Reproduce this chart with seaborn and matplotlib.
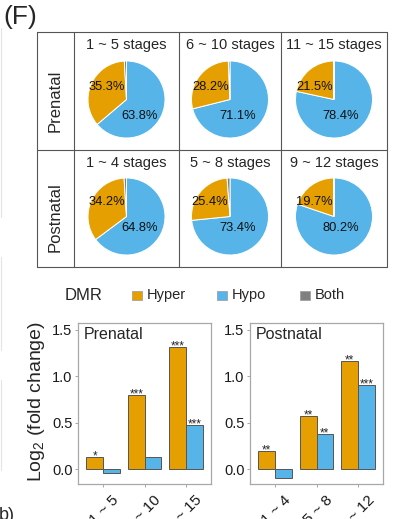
import numpy as np
import pandas as pd
import matplotlib
matplotlib.use("Agg")
import matplotlib.pyplot as plt
import matplotlib.transforms as mtransforms
from matplotlib.patches import Rectangle
import seaborn as sns

# ---------------- data ----------------
periods = ["Prenatal", "Postnatal"]
pie_titles = [["1 ~ 5 stages", "6 ~ 10 stages", "11 ~ 15 stages"],
              ["1 ~ 4 stages", "5 ~ 8 stages", "9 ~ 12 stages"]]
# percentage of DMRs per stage window (Hyper, Hypo, Both)
prenatal_hyper = [35.3, 28.2, 21.5]
prenatal_hypo = [63.8, 71.1, 78.4]
prenatal_both = [0.9, 0.7, 0.1]
postnatal_hyper = [34.2, 25.4, 19.7]
postnatal_hypo = [64.8, 73.4, 80.2]
postnatal_both = [1.0, 1.2, 0.1]

# log2 fold change per stage window
prenatal_stages = ["1 ~ 5", "6 ~ 10", "11 ~ 15"]
postnatal_stages = ["1 ~ 4", "5 ~ 8", "9 ~ 12"]
prenatal_fc_hyper = [0.126, 0.795, 1.31]
prenatal_fc_hypo = [-0.046, 0.125, 0.47]
postnatal_fc_hyper = [0.198, 0.568, 1.158]
postnatal_fc_hypo = [-0.094, 0.381, 0.906]
prenatal_sig_hyper = ["*", "***", "***"]
prenatal_sig_hypo = ["", "", "***"]
postnatal_sig_hyper = ["**", "**", "**"]
postnatal_sig_hypo = ["", "**", "***"]

dmr_types = ["Hyper", "Hypo", "Both"]
dmr_colors = {"Hyper": "#E69F00", "Hypo": "#56B4E9", "Both": "#808080"}

# ---------------- style ----------------
sns.set_style("white")
plt.rcParams["font.family"] = ["Liberation Sans", "DejaVu Sans"]
plt.rcParams["mathtext.fontset"] = "custom"
plt.rcParams["mathtext.rm"] = "Liberation Sans"
plt.rcParams["mathtext.default"] = "regular"

W, H = 411, 519
fig = plt.figure(figsize=(W / 100, H / 100), dpi=100)
fig.patch.set_facecolor("white")


def px_axes(x0, y0, x1, y1, **kw):
    return fig.add_axes([x0 / W, 1 - y1 / H, (x1 - x0) / W, (y1 - y0) / H], **kw)


# overlay in pixel units for frames, headers and legend
bg = px_axes(0, 0, W, H)
bg.set_xlim(0, W)
bg.set_ylim(H, 0)
bg.axis("off")

# neighbouring panel edge and labels
for ya, yb in [(28, 217), (257, 350), (380, 470)]:
    bg.plot([0.6, 0.6], [ya, yb], color="#e4e4e4", lw=0.8)
bg.text(3, 24, "(F)", fontsize=19, ha="left", va="baseline")
bg.text(-1, 507, "b)", fontsize=13, ha="left", va="top")

# ---------------- pie grid ----------------
grid_x = [37, 74, 179, 281, 387]
grid_y = [32, 150, 267]
frame_kw = dict(color="#555555", lw=0.8)
for x in grid_x:
    bg.plot([x, x], [grid_y[0], grid_y[-1]], **frame_kw)
for y in grid_y:
    bg.plot([grid_x[0], grid_x[-1]], [y, y], **frame_kw)

pie_data = [
    (prenatal_hyper, prenatal_hypo, prenatal_both),
    (postnatal_hyper, postnatal_hypo, postnatal_both),
]
pie_cy = [99.5, 216.5]
title_cy = [45, 163]
R = 38.5
# label anchors relative to pie centre (in radius units)
hyper_off = [(-0.51, 0.33), (-0.52, 0.37)]
hypo_dx = [0.34, 0.20, 0.18]
hypo_dy = [-0.43, -0.29]

for r, period in enumerate(periods):
    bg.text((grid_x[0] + grid_x[1]) / 2, pie_cy[r] + 1, period, rotation=90,
            fontsize=12, ha="center", va="center")
    hyper, hypo, both = pie_data[r]
    for c in range(3):
        cx = (grid_x[c + 1] + grid_x[c + 2]) / 2
        bg.text(cx, title_cy[r], pie_titles[r][c], fontsize=10.5,
                ha="center", va="center")
        s = R * 1.1
        ax = px_axes(cx - s, pie_cy[r] - s, cx + s, pie_cy[r] + s)
        ax.pie([hypo[c], hyper[c], both[c]],
               colors=[dmr_colors["Hypo"], dmr_colors["Hyper"], dmr_colors["Both"]],
               startangle=90, counterclock=False, radius=1,
               wedgeprops=dict(edgecolor="white", linewidth=0.7))
        ax.set_xlim(-1.1, 1.1)
        ax.set_ylim(-1.1, 1.1)
        ax.set_aspect("equal")
        ax.axis("off")
        ax.text(hyper_off[r][0], hyper_off[r][1], f"{hyper[c]:.1f}%",
                fontsize=9.3, ha="center", va="center", color="#111111")
        ax.text(hypo_dx[c], hypo_dy[r], f"{hypo[c]:.1f}%",
                fontsize=9.3, ha="center", va="center", color="#111111")

# ---------------- legend ----------------
bg.text(65, 295, "DMR", fontsize=12, ha="left", va="center")
for name, sx in zip(dmr_types, [131.5, 216.5, 300]):
    bg.add_patch(Rectangle((sx, 290.5), 10, 9, facecolor=dmr_colors[name],
                           edgecolor="#9a9a9a", lw=0.5))
    bg.text(sx + 15, 295, name, fontsize=10.5, ha="left", va="center")

# ---------------- bar charts ----------------
bar_sets = [
    ("Prenatal", prenatal_stages, prenatal_fc_hyper, prenatal_fc_hypo,
     prenatal_sig_hyper, prenatal_sig_hypo, (78, 323, 211, 484)),
    ("Postnatal", postnatal_stages, postnatal_fc_hyper, postnatal_fc_hypo,
     postnatal_sig_hyper, postnatal_sig_hypo, (250, 323, 383, 484)),
]

# nudge rotated stage labels right/down from their ticks
label_shift = mtransforms.ScaledTranslation(9 / 100, -3 / 100, fig.dpi_scale_trans)

for title, stages, fc_hyper, fc_hypo, sig_hyper, sig_hypo, box in bar_sets:
    df = pd.DataFrame({
        "stage": stages * 2,
        "DMR": ["Hyper"] * 3 + ["Hypo"] * 3,
        "log2fc": fc_hyper + fc_hypo,
    })
    ax = px_axes(*box)
    sns.barplot(data=df, x="stage", y="log2fc", hue="DMR", order=stages,
                hue_order=["Hyper", "Hypo"],
                palette=[dmr_colors["Hyper"], dmr_colors["Hypo"]],
                saturation=1, edgecolor="#555555", linewidth=0.7, width=0.8,
                errorbar=None, legend=False, ax=ax)
    ax.set_xlim(-0.6, 2.6)
    ax.set_ylim(-0.16, 1.57)
    ax.set_yticks([0, 0.5, 1.0, 1.5])
    ax.set_yticklabels(["0.0", "0.5", "1.0", "1.5"])
    ax.set_xlabel("")
    ax.set_ylabel("")
    for sp in ax.spines.values():
        sp.set_visible(True)
        sp.set_color("#a8a8a8")
        sp.set_linewidth(0.9)
    ax.tick_params(axis="both", which="major", direction="out", length=2.5,
                   width=0.7, color="#a8a8a8", labelsize=10.5,
                   labelcolor="#1a1a1a", pad=1.5, bottom=True, left=True)
    ax.set_xticks(range(len(stages)))
    ax.set_xticklabels(stages, rotation=45, ha="right", va="top",
                       rotation_mode="anchor", fontsize=11)
    for lab in ax.get_xticklabels():
        lab.set_transform(lab.get_transform() + label_shift)
    ax.text(0.04, 0.975, title, transform=ax.transAxes, fontsize=11.5,
            ha="left", va="top")
    # significance marks
    for i in range(len(stages)):
        for val, sig, dx in ((fc_hyper[i], sig_hyper[i], -0.2),
                             (fc_hypo[i], sig_hypo[i], 0.2)):
            if sig:
                ax.text(i + dx, val - 0.025, sig, fontsize=8.5,
                        ha="center", va="baseline")

fig.text(36.5 / W, 1 - 402 / H, "Log$_2$ (fold change)", rotation=90,
         fontsize=14, ha="center", va="center")

fig.savefig("out.png", dpi=100)
